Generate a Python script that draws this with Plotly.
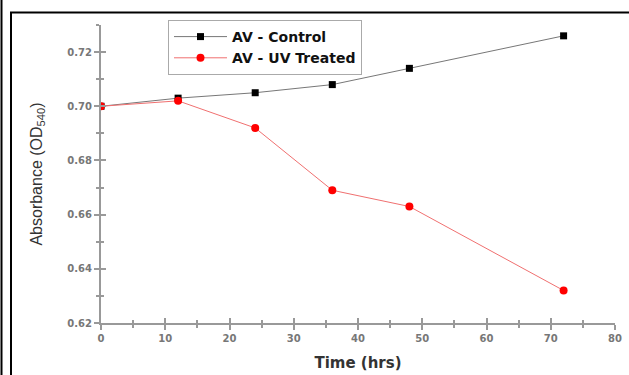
import plotly.graph_objects as go

time_hrs = [0, 12, 24, 36, 48, 72]
control = [0.700, 0.703, 0.705, 0.708, 0.714, 0.726]
uv_treated = [0.700, 0.702, 0.692, 0.669, 0.663, 0.632]
x_ticks = [0, 10, 20, 30, 40, 50, 60, 70, 80]
y_ticks = [0.62, 0.64, 0.66, 0.68, 0.70, 0.72]

W, H = 629, 375
L, R, T, B = 101, 14, 25, 52
pw, ph = W - L - R, H - T - B

def px(xp):
    return (xp - L) / pw

def py(yp):
    return (H - B - yp) / ph

fig = go.Figure()
fig.add_trace(go.Scatter(
    x=time_hrs, y=control, mode="lines+markers", name="AV - Control",
    line=dict(color="#777777", width=1),
    marker=dict(symbol="square", size=7, color="black"),
))
fig.add_trace(go.Scatter(
    x=time_hrs, y=uv_treated, mode="lines+markers", name="AV - UV Treated",
    line=dict(color="#f07070", width=1),
    marker=dict(symbol="circle", size=8, color="#ff0000"),
))

tickfont = dict(family="DejaVu Sans", size=10, color="#777777", weight="bold")
axcol = "#999999"

fig.update_layout(
    width=W, height=H,
    margin=dict(l=L, r=R, t=T, b=B, autoexpand=False),
    paper_bgcolor="white", plot_bgcolor="white",
    showlegend=True,
    legend=dict(
        x=px(168), y=py(20), xanchor="left", yanchor="top",
        bordercolor="#aaaaaa", borderwidth=1, bgcolor="white",
        font=dict(family="DejaVu Sans", size=14, color="#111111", weight="bold"),
        tracegroupgap=0, itemwidth=53,
    ),
    xaxis=dict(
        range=[0, 80], tickvals=x_ticks, showgrid=False, zeroline=False, automargin=False,
        showline=True, linecolor=axcol, linewidth=2,
        ticks="outside", ticklen=5, tickwidth=2, tickcolor=axcol,
        minor=dict(dtick=5, ticks="outside", ticklen=3, tickwidth=2, tickcolor=axcol),
        tickfont=tickfont,
        title=dict(text="<b>Time (hrs)</b>", font=dict(family="DejaVu Sans", size=15, color="#333333"), standoff=14),
    ),
    yaxis=dict(
        range=[0.62, 0.73], tickvals=y_ticks, tickformat=".2f", showgrid=False, zeroline=False, automargin=False,
        showline=True, linecolor=axcol, linewidth=2,
        ticks="outside", ticklen=5, tickwidth=2, tickcolor=axcol,
        minor=dict(dtick=0.01, ticks="outside", ticklen=3, tickwidth=2, tickcolor=axcol),
        tickfont=tickfont,
        title=dict(text="Absorbance (OD<sub>540</sub>)", font=dict(family="Arial, Liberation Sans", size=16, color="#333333"), standoff=21),
    ),
    xaxis2=dict(
        overlaying="x", matches="x", range=[0, 80], tickvals=x_ticks, showticklabels=False,
        showgrid=False, zeroline=False, showline=False, side="bottom",
        ticks="inside", ticklen=5, tickwidth=2, tickcolor=axcol,
        minor=dict(dtick=5, ticks="inside", ticklen=3, tickwidth=2, tickcolor=axcol),
    ),
    yaxis2=dict(
        overlaying="y", matches="y", range=[0.62, 0.73], tickvals=y_ticks, showticklabels=False,
        showgrid=False, zeroline=False, showline=False, side="left",
        ticks="inside", ticklen=5, tickwidth=2, tickcolor=axcol,
        minor=dict(dtick=0.01, ticks="inside", ticklen=3, tickwidth=2, tickcolor=axcol),
    ),
)

fig.add_trace(go.Scatter(x=[None], y=[None], xaxis="x2", yaxis="y2", showlegend=False, hoverinfo="skip"))

fig.add_shape(type="line", xref="paper", yref="paper", x0=px(1.5), x1=px(1.5), y0=py(0), y1=py(375),
              line=dict(color="black", width=2))
fig.add_shape(type="line", xref="paper", yref="paper", x0=px(11), x1=px(11), y0=py(12), y1=py(375),
              line=dict(color="black", width=2))
fig.add_shape(type="line", xref="paper", yref="paper", x0=px(10), x1=px(629), y0=py(12.5), y1=py(12.5),
              line=dict(color="black", width=2))

fig.write_html("out.html", config={"displayModeBar": False},
               post_script="document.body.style.margin='0';document.body.style.overflow='hidden';")
